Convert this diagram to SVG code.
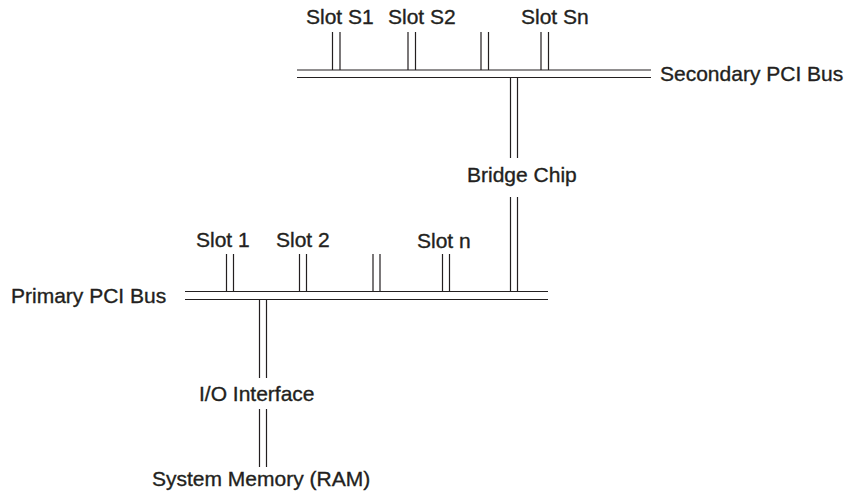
<svg xmlns="http://www.w3.org/2000/svg" width="851" height="494" viewBox="0 0 851 494">
<style>
.ln{stroke:#231f20;stroke-width:1.2;fill:none}
.tx{font-family:"Liberation Sans",Arial,sans-serif;font-size:21px;fill:#231f20;stroke:#231f20;stroke-width:0.35}
</style>
<rect width="851" height="494" fill="#fff"/>
<g id="connectors">
<path class="ln" d="M332.5 32V70M340 32V70M408 32V70M415.5 32V70M481 32V70M488.5 32V70M541 32V70M548.5 32V70"/>
<path class="ln" d="M510.5 77.5V158M517.5 77.5V158M510.5 197V291.5M517.5 197V291.5"/>
<path class="ln" d="M226.5 254V291.5M233.5 254V291.5M299.5 254V291.5M306.5 254V291.5M373 254V291.5M380 254V291.5M442.5 254V291.5M449.5 254V291.5"/>
<path class="ln" d="M259.5 299.5V378M266.5 299.5V378M259.5 409V467M266.5 409V467"/>
</g>
<g id="secondary-bus">
<path class="ln" d="M297 70H651M297 77.5H651"/>
<text class="tx" x="660" y="81">Secondary PCI Bus</text>
</g>
<g id="primary-bus">
<path class="ln" d="M185 291.5H548M185 299.5H548"/>
<text class="tx" x="11" y="303">Primary PCI Bus</text>
</g>
<g id="slot-s1"><text class="tx" x="306" y="24">Slot S1</text></g>
<g id="slot-s2"><text class="tx" x="388" y="24">Slot S2</text></g>
<g id="slot-sn"><text class="tx" x="521" y="24">Slot Sn</text></g>
<g id="bridge-chip"><text class="tx" x="467" y="182">Bridge Chip</text></g>
<g id="slot-1"><text class="tx" x="196" y="247">Slot 1</text></g>
<g id="slot-2"><text class="tx" x="276" y="247">Slot 2</text></g>
<g id="slot-n"><text class="tx" x="417" y="248">Slot n</text></g>
<g id="io-interface"><text class="tx" x="199" y="401">I/O Interface</text></g>
<g id="system-memory"><text class="tx" x="152" y="486">System Memory (RAM)</text></g>
</svg>
